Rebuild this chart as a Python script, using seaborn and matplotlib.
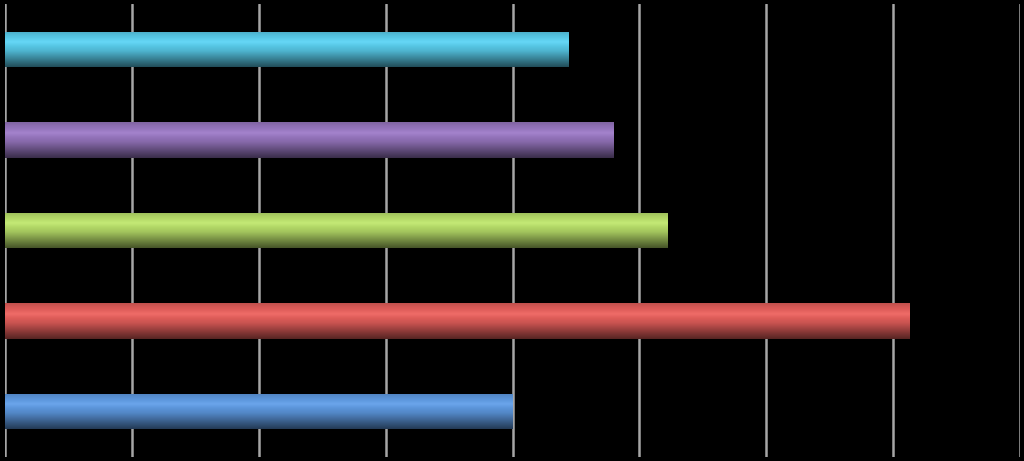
import numpy as np
import pandas as pd
import matplotlib
matplotlib.use("Agg")
import matplotlib.pyplot as plt
import matplotlib.colors as mcolors
import seaborn as sns

# --- Data (top to bottom as shown) ---
categories = ["E", "D", "C", "B", "A"]
values = [4.44, 4.80, 5.22, 7.13, 4.00]
colors = ["#4BACC6", "#8064A2", "#9BBB59", "#C0504D", "#4F81BD"]

df = pd.DataFrame({"cat": categories, "val": values})

sns.set_style("dark")
fig = plt.figure(figsize=(10.24, 4.61), dpi=100, facecolor="black")
ax = fig.add_axes([5 / 1024, 4 / 461, 1015 / 1024, 453 / 461])
ax.set_facecolor("black")

sns.barplot(data=df, x="val", y="cat", hue="cat", palette=colors, legend=False,
            orient="h", width=0.39, ax=ax)


def shade(base, t):
    # glossy gradient: bright band near the top, dark toward the bottom
    rgb = np.array(mcolors.to_rgb(base))
    f = np.interp(t, [0.0, 0.12, 0.3, 0.55, 1.0], [1.0, 1.12, 1.24, 1.05, 0.45])
    out = rgb * f
    out = out + (1 - out) * max(f - 1.15, 0) * 0.6
    return np.clip(out, 0, 1)


# overlay a vertical gradient on each bar, clipped to the bar patch
ts = np.linspace(0, 1, 120)
for patch, col in zip(ax.patches, colors):
    x0, y0 = patch.get_x(), patch.get_y()
    w, h = patch.get_width(), patch.get_height()
    grad = np.array([shade(col, t) for t in ts])[:, None, :]
    im = ax.imshow(grad, extent=[x0, x0 + w, y0 + h, y0], aspect="auto",
                   interpolation="bilinear", zorder=patch.get_zorder() + 0.1)
    im.set_clip_path(patch)
    patch.set_edgecolor("none")

ax.set_xlim(0, 8)
ax.set_ylim(4.5, -0.5)
ax.set_xticks(range(0, 9))
ax.grid(axis="x", color="#a6a6a6", linewidth=1.8)
ax.grid(axis="y", visible=False)
ax.set_axisbelow(True)
ax.tick_params(left=False, bottom=False, labelleft=False, labelbottom=False)
ax.set_xlabel("")
ax.set_ylabel("")
for s in ax.spines.values():
    s.set_visible(False)

fig.savefig("out.png", dpi=100, facecolor="black")
